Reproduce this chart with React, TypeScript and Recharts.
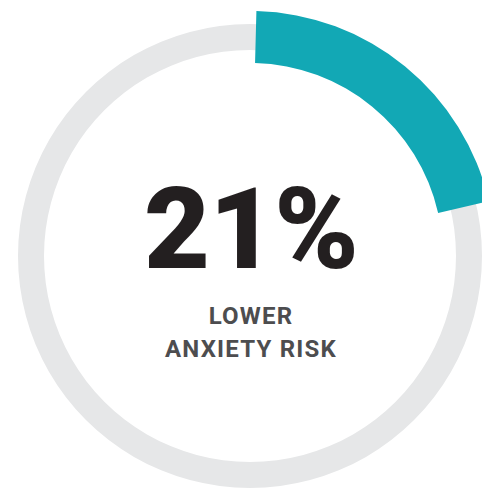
import React from "react";
import { PieChart, Pie, Cell } from "recharts";

const percentValue = 21;
const gaugeData = [
  { name: "Lower anxiety risk", value: percentValue },
  { name: "Rest", value: 100 - percentValue },
];
const trackData = [{ name: "Track", value: 100 }];
const headline = "21%";
const subtitleLines = ["LOWER", "ANXIETY RISK"];

const W = 482;
const H = 490;
const CX = 250;
const CY = 256;
const START = 88.5;

export default function App() {
  return (
    <div style={{ position: "absolute", left: 0, top: 0, width: W, height: H, background: "#ffffff" }}>
      <PieChart width={W} height={H} margin={{ top: 0, right: 0, bottom: 0, left: 0 }}>
        <Pie
          data={trackData}
          dataKey="value"
          cx={CX}
          cy={CY}
          innerRadius={206}
          outerRadius={232}
          startAngle={90}
          endAngle={-270}
          stroke="none"
          isAnimationActive={false}
        >
          <Cell fill="#e6e7e8" />
        </Pie>
        <Pie
          data={gaugeData}
          dataKey="value"
          cx={CX}
          cy={CY}
          innerRadius={193}
          outerRadius={245}
          startAngle={START}
          endAngle={START - 360}
          stroke="none"
          isAnimationActive={false}
        >
          <Cell fill="#12a8b5" />
          <Cell fill="transparent" />
        </Pie>
      </PieChart>
      <svg
        width={W}
        height={H}
        style={{ position: "absolute", left: 0, top: 0, pointerEvents: "none" }}
      >
        <text
          x={251}
          y={268}
          textAnchor="middle"
          fontFamily="Roboto, sans-serif"
          fontWeight={900}
          fontSize={114}
          letterSpacing={-1}
          fill="#231f20"
        >
          {headline}
        </text>
        {subtitleLines.map((line, i) => (
          <text
            key={line}
            x={251}
            y={324 + i * 33}
            textAnchor="middle"
            fontFamily="Roboto, sans-serif"
            fontWeight={700}
            fontSize={24}
            letterSpacing={1.2}
            fill="#4d4d4f"
          >
            {line}
          </text>
        ))}
      </svg>
    </div>
  );
}
